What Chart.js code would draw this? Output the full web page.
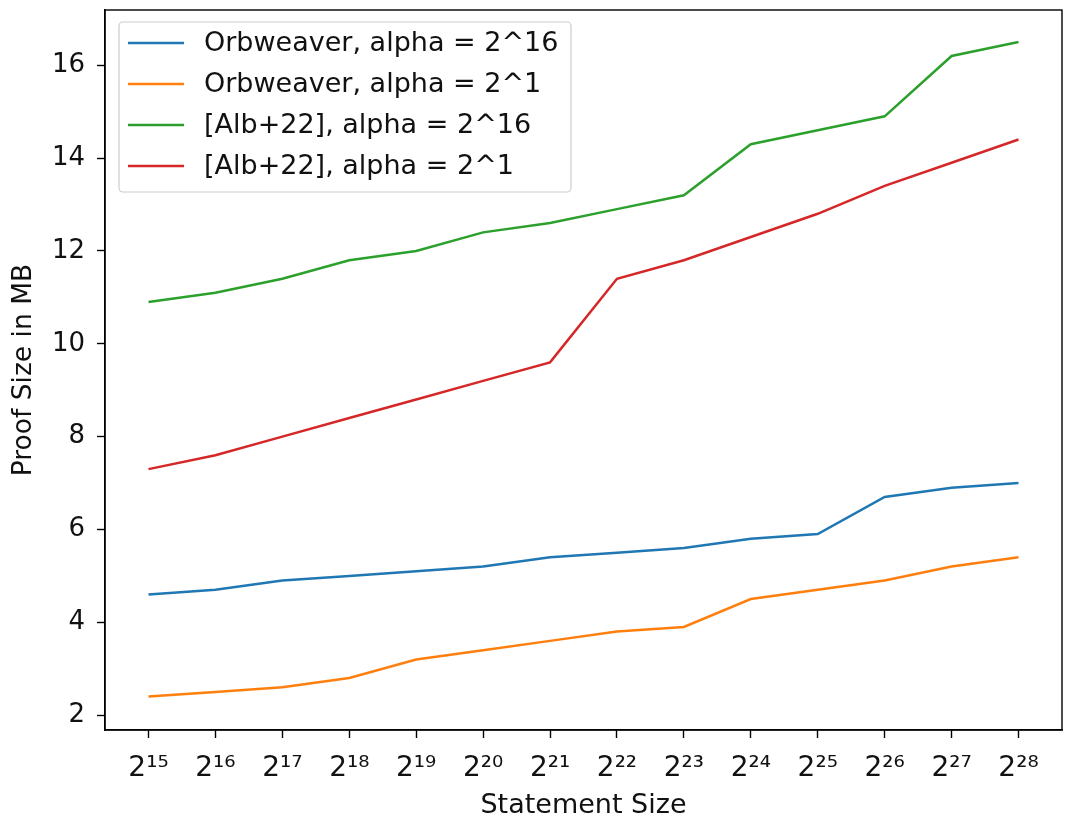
<!DOCTYPE html>
<html>
<head>
<meta charset="utf-8">
<script src="https://cdn.jsdelivr.net/npm/chart.js@4/dist/chart.umd.min.js"></script>
<style>
html,body{margin:0;padding:0;background:#fff;}
#wrap{width:1065px;height:818px;position:relative;}
</style>
</head>
<body>
<div id="wrap"><canvas id="c" width="1065" height="818"></canvas></div>
<script>
const exponents = [15,16,17,18,19,20,21,22,23,24,25,26,27,28];
const orbweaver16 = [4.6,4.7,4.9,5.0,5.1,5.2,5.4,5.5,5.6,5.8,5.9,6.7,6.9,7.0];
const orbweaver1  = [2.4,2.5,2.6,2.8,3.2,3.4,3.6,3.8,3.9,4.5,4.7,4.9,5.2,5.4];
const alb16       = [10.9,11.1,11.4,11.8,12.0,12.4,12.6,12.9,13.2,14.3,14.6,14.9,16.2,16.5];
const alb1        = [7.3,7.6,8.0,8.4,8.8,9.2,9.6,11.4,11.8,12.3,12.8,13.4,13.9,14.4];
const seriesLabels = ['Orbweaver, alpha = 2^16','Orbweaver, alpha = 2^1','[Alb+22], alpha = 2^16','[Alb+22], alpha = 2^1'];
const yTicks = [2,4,6,8,10,12,14,16];

const sup = {'0':'⁰','1':'¹','2':'²','3':'³','4':'⁴','5':'⁵','6':'⁶','7':'⁷','8':'⁸','9':'⁹'};
const xLabels = exponents.map(e => '2' + String(e).split('').map(d => sup[d]).join(''));

const colors = ['#1f77b4','#ff7f0e','#2ca02c','#d62728'];
const seriesData = [orbweaver16, orbweaver1, alb16, alb1];
const FONT = "'DejaVu Sans', sans-serif";
const TXT = '#111111';

const datasets = seriesData.map((arr,i) => ({
  label: seriesLabels[i],
  data: arr.map((v,j) => ({x:j, y:v})),
  borderColor: colors[i],
  backgroundColor: colors[i],
  borderWidth: 2.5,
  pointRadius: 0,
  tension: 0,
  fill: false
}));

const framePlugin = {
  id: 'frame',
  afterDatasetsDraw(chart) {
    const {ctx, chartArea:a} = chart;
    ctx.save();
    ctx.strokeStyle = '#000';
    ctx.lineWidth = 1.4;
    ctx.strokeRect(a.left, a.top, a.right - a.left, a.bottom - a.top);
    ctx.restore();
  },
  afterDraw(chart) {
    const {ctx, chartArea:a} = chart;
    const ds = chart.data.datasets;
    const bx = a.left + 14, by = a.top + 12, bw = 452, bh = 170;
    ctx.save();
    ctx.beginPath();
    const r = 4;
    ctx.moveTo(bx + r, by);
    ctx.arcTo(bx + bw, by, bx + bw, by + bh, r);
    ctx.arcTo(bx + bw, by + bh, bx, by + bh, r);
    ctx.arcTo(bx, by + bh, bx, by, r);
    ctx.arcTo(bx, by, bx + bw, by, r);
    ctx.closePath();
    ctx.fillStyle = 'rgba(255,255,255,0.8)';
    ctx.fill();
    ctx.strokeStyle = '#cccccc';
    ctx.lineWidth = 1.2;
    ctx.stroke();
    ctx.font = "27px " + FONT;
    ctx.textBaseline = 'middle';
    ds.forEach((d,i) => {
      const y = a.top + 33 + i * 41;
      ctx.strokeStyle = d.borderColor;
      ctx.lineWidth = 2.5;
      ctx.beginPath();
      ctx.moveTo(a.left + 23, y);
      ctx.lineTo(a.left + 79, y);
      ctx.stroke();
      ctx.fillStyle = TXT;
      ctx.fillText(d.label, a.left + 99, y + 1);
    });
    ctx.restore();
  }
};

new Chart(document.getElementById('c'), {
  type: 'line',
  data: { datasets },
  options: {
    responsive: false,
    animation: false,
    layout: { padding: { top: 10, right: 3, left: 0, bottom: 0 } },
    plugins: { legend: { display: false }, tooltip: { enabled: false } },
    scales: {
      x: {
        type: 'linear',
        min: -0.65,
        max: 13.65,
        afterBuildTicks(scale) { scale.ticks = exponents.map((e,i) => ({value:i})); },
        afterFit(scale) { scale.height = 88; scale.paddingLeft = 0; scale.paddingRight = 0; },
        ticks: {
          autoSkip: false,
          maxRotation: 0,
          color: TXT,
          font: { family: FONT, size: 28 },
          padding: 14,
          callback: (v) => xLabels[v]
        },
        grid: { drawOnChartArea: false, drawTicks: true, tickLength: 8, color: '#000', tickWidth: 1.4 },
        border: { display: true, color: '#000', width: 1.4 },
        title: { display: true, text: 'Statement Size', color: TXT, font: { family: FONT, size: 27 }, padding: { top: 4, bottom: -4 } }
      },
      y: {
        type: 'linear',
        min: 1.68,
        max: 17.19,
        afterBuildTicks(scale) { scale.ticks = yTicks.map(v => ({value:v})); },
        afterFit(scale) { scale.width = 105; scale.paddingTop = 0; scale.paddingBottom = 0; },
        ticks: {
          color: TXT,
          font: { family: FONT, size: 26 },
          padding: 12,
          callback: (v) => String(v)
        },
        grid: { drawOnChartArea: false, drawTicks: true, tickLength: 8, color: '#000', tickWidth: 1.4 },
        border: { display: true, color: '#000', width: 1.4 },
        title: { display: true, text: 'Proof Size in MB', color: TXT, font: { family: FONT, size: 26.5 }, padding: { top: 8, bottom: 2 } }
      }
    }
  },
  plugins: [framePlugin]
});
</script>
</body>
</html>
